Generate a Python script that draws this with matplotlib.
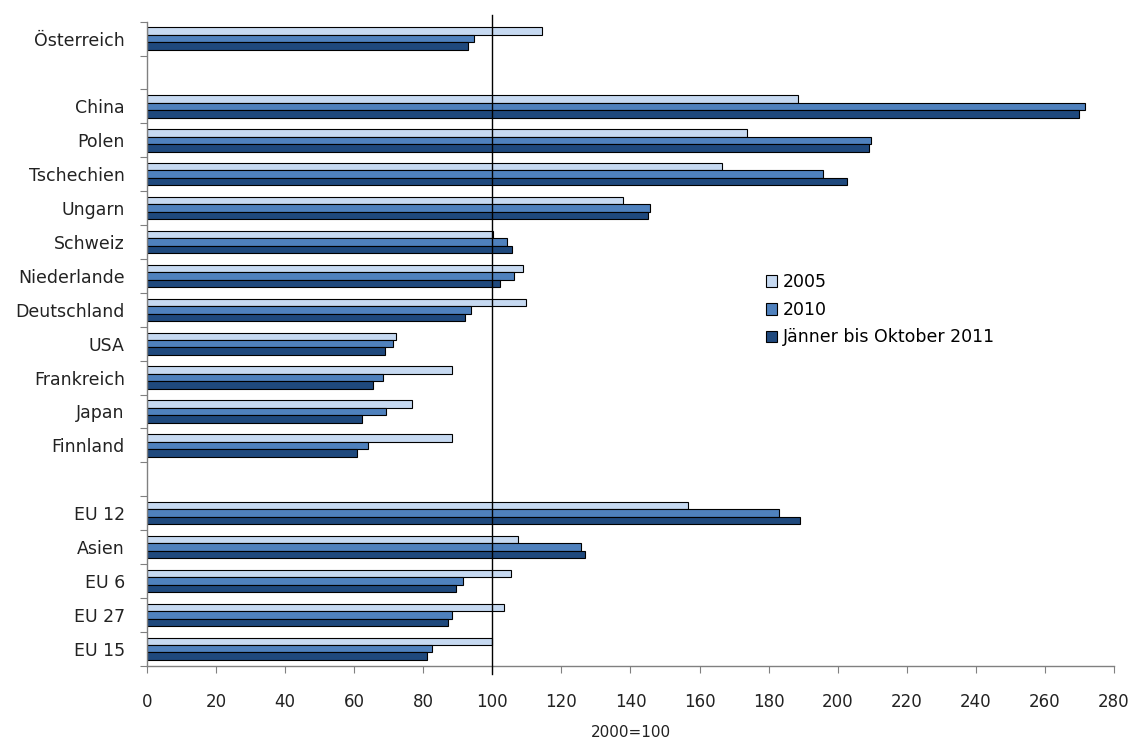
import numpy as np
import matplotlib
matplotlib.use("Agg")
import matplotlib.pyplot as plt

plt.rcParams['font.family'] = ['DejaVu Sans']

# Categories from top to bottom ("" = empty gap row)
categories = ["Österreich", "", "China", "Polen", "Tschechien", "Ungarn", "Schweiz",
              "Niederlande", "Deutschland", "USA", "Frankreich", "Japan", "Finnland",
              "", "EU 12", "Asien", "EU 6", "EU 27", "EU 15"]
nan = np.nan
v2005 = [114.3, nan, 188.4, 173.8, 166.4, 137.8, 100.3, 108.9, 109.8, 72.2, 88.4, 76.8, 88.2,
         nan, 156.8, 107.4, 105.5, 103.3, 99.9]
v2010 = [94.6, nan, 271.7, 209.8, 195.9, 145.7, 104.2, 106.2, 93.7, 71.1, 68.2, 69.3, 63.9,
         nan, 183.0, 125.6, 91.6, 88.4, 82.6]
v2011 = [92.9, nan, 269.8, 209.0, 202.8, 145.0, 105.8, 102.3, 92.2, 69.0, 65.5, 62.3, 60.8,
         nan, 189.1, 126.8, 89.6, 87.2, 81.0]
series_labels = ["2005", "2010", "Jänner bis Oktober 2011"]
xticks = list(range(0, 281, 20))

colors = ["#C6D9F1", "#4F81BD", "#1F497D"]

fig = plt.figure(figsize=(11.32, 7.40), dpi=100)
ax = fig.add_axes([0.1299, 0.1004, 0.8541, 0.8703])

n = len(categories)
y = np.arange(n)[::-1].astype(float)
h = 0.22
for vals, off, col, lab in zip([v2005, v2010, v2011], [h, 0, -h], colors, series_labels):
    ax.barh(y + off, vals, height=h, color=col, edgecolor="black", linewidth=0.8,
            label=lab, zorder=2)

ax.set_xlim(0, 280)
ax.set_ylim(-0.5, n - 0.5)

# reference line at 100
ax.plot([100, 100], [-0.745, n - 0.5 + 0.2], color="black", linewidth=1.0,
        zorder=3, clip_on=False)

for s in ["top", "right"]:
    ax.spines[s].set_visible(False)
for s in ["left", "bottom"]:
    ax.spines[s].set_color("#808080")
    ax.spines[s].set_linewidth(1.0)

ax.set_xticks(xticks)
ax.set_xticklabels([str(t) for t in xticks], fontsize=12, color="#222222")
ax.tick_params(axis="x", direction="out", length=5, color="#808080", pad=15)

ax.set_yticks(np.arange(-0.5, n, 1.0))
ax.set_yticklabels([])
ax.tick_params(axis="y", which="major", direction="out", length=5, color="#808080")
ax.set_yticks(y, minor=True)
ax.set_yticklabels(categories, minor=True, fontsize=12.5, color="#222222")
ax.tick_params(axis="y", which="minor", length=0, pad=16)

ax.set_xlabel("2000=100", fontsize=11, color="#222222", labelpad=10)

leg = ax.legend(loc="upper left", bbox_to_anchor=(0.633, 0.62), frameon=False,
                fontsize=12.5, handlelength=0.65, handleheight=0.65, handletextpad=0.3,
                labelspacing=0.55, borderaxespad=0)

fig.savefig("out.png", dpi=100)
